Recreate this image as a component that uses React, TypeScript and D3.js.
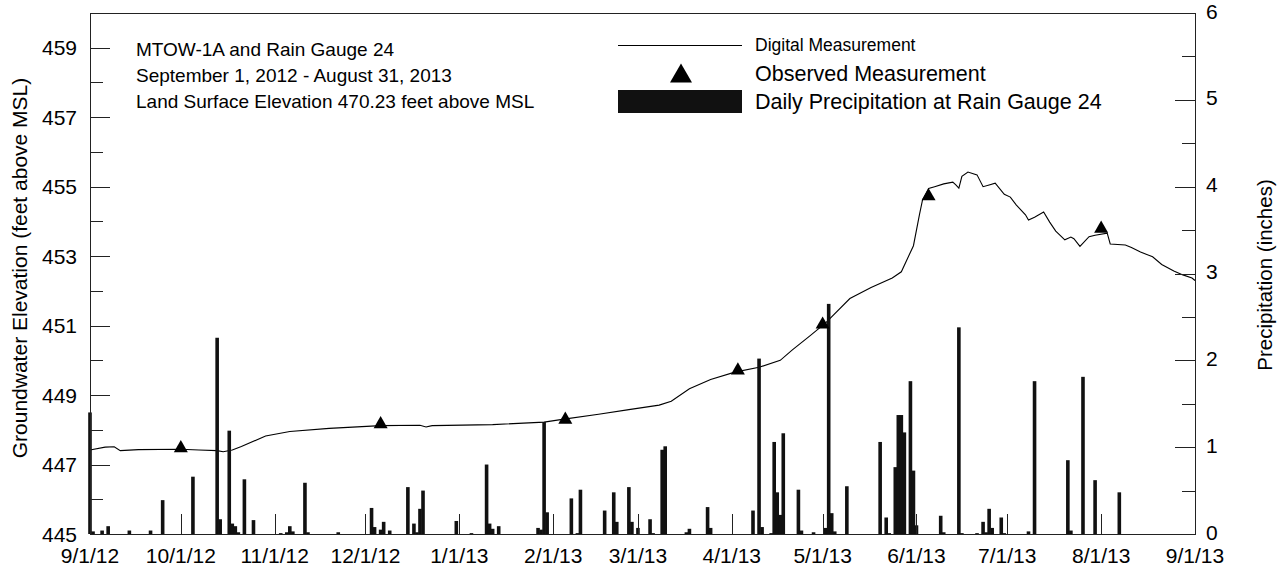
import React from "react";
import * as d3 from "d3";

// Groundwater level at MTOW-1A (digital recorder), feet above MSL
const levelDates = [
  "2012-09-01", "2012-09-06", "2012-09-09", "2012-09-11", "2012-09-17", "2012-10-01",
  "2012-10-07", "2012-10-13", "2012-10-15", "2012-10-18", "2012-10-21", "2012-10-29",
  "2012-11-06", "2012-11-19", "2012-12-06", "2012-12-19", "2012-12-21", "2012-12-23",
  "2013-01-12", "2013-01-29", "2013-02-04", "2013-02-16", "2013-02-26", "2013-03-08",
  "2013-03-12", "2013-03-18", "2013-03-25", "2013-04-02", "2013-04-10", "2013-04-17",
  "2013-04-21", "2013-04-27", "2013-05-02", "2013-05-10", "2013-05-17", "2013-05-24",
  "2013-05-27", "2013-05-31", "2013-06-02", "2013-06-03", "2013-06-05", "2013-06-07",
  "2013-06-10", "2013-06-13", "2013-06-14", "2013-06-15", "2013-06-16", "2013-06-18",
  "2013-06-21", "2013-06-23", "2013-06-25", "2013-06-27", "2013-06-30", "2013-07-02",
  "2013-07-04", "2013-07-07", "2013-07-08", "2013-07-10", "2013-07-13", "2013-07-15",
  "2013-07-17", "2013-07-20", "2013-07-22", "2013-07-23", "2013-07-25", "2013-07-28",
  "2013-07-30", "2013-08-03", "2013-08-04", "2013-08-09", "2013-08-11", "2013-08-14",
  "2013-08-18", "2013-08-21", "2013-08-25", "2013-08-28", "2013-08-31", "2013-09-01",
];
const levelValues = [
  447.42, 447.5, 447.51, 447.4, 447.43, 447.44,
  447.42, 447.4, 447.37, 447.42, 447.52, 447.82,
  447.95, 448.04, 448.12, 448.13, 448.08, 448.12,
  448.15, 448.22, 448.3, 448.45, 448.58, 448.71,
  448.82, 449.18, 449.45, 449.66, 449.8, 450.0,
  450.3, 450.72, 451.08, 451.78, 452.1, 452.37,
  452.55, 453.3, 454.2, 454.62, 454.95, 455.0,
  455.08, 455.13, 455.05, 454.96, 455.3, 455.42,
  455.34, 455.0, 455.05, 455.1, 454.78, 454.7,
  454.47, 454.19, 454.04, 454.12, 454.27, 453.98,
  453.72, 453.47, 453.55, 453.5, 453.28, 453.56,
  453.6, 453.66, 453.35, 453.32, 453.25, 453.12,
  452.98, 452.76, 452.57, 452.46, 452.37, 452.3,
];

// Manual (observed) water-level measurements
const observedDates = [
  "2012-10-01", "2012-12-06", "2013-02-05", "2013-04-03", "2013-05-01", "2013-06-05", "2013-08-01",
];
const observedValues = [447.53, 448.22, 448.35, 449.77, 451.09, 454.78, 453.85];

// Daily precipitation at Rain Gauge 24, inches
const rainDates = [
  "2012-09-01", "2012-09-02", "2012-09-05", "2012-09-07", "2012-09-14", "2012-09-21", "2012-09-25",
  "2012-10-05", "2012-10-13", "2012-10-14", "2012-10-17", "2012-10-18", "2012-10-19", "2012-10-20",
  "2012-10-22", "2012-10-25", "2012-11-03", "2012-11-05", "2012-11-06", "2012-11-07", "2012-11-11",
  "2012-11-12", "2012-11-22", "2012-12-03", "2012-12-04", "2012-12-06", "2012-12-07", "2012-12-09",
  "2012-12-15", "2012-12-17", "2012-12-18", "2012-12-19", "2012-12-20", "2012-12-31", "2013-01-05",
  "2013-01-10", "2013-01-11", "2013-01-12", "2013-01-14", "2013-01-27", "2013-01-28", "2013-01-29",
  "2013-01-30", "2013-02-07", "2013-02-09", "2013-02-10", "2013-02-18", "2013-02-21", "2013-02-22",
  "2013-02-26", "2013-02-27", "2013-03-01", "2013-03-05", "2013-03-06", "2013-03-09", "2013-03-10",
  "2013-03-17", "2013-03-18", "2013-03-24", "2013-03-25", "2013-04-08", "2013-04-10", "2013-04-11",
  "2013-04-14", "2013-04-15", "2013-04-16", "2013-04-17", "2013-04-18", "2013-04-23", "2013-04-24",
  "2013-04-28", "2013-05-02", "2013-05-03", "2013-05-04", "2013-05-05", "2013-05-09", "2013-05-20",
  "2013-05-22", "2013-05-23", "2013-05-25", "2013-05-26", "2013-05-27", "2013-05-28", "2013-05-30",
  "2013-05-31", "2013-06-01", "2013-06-09", "2013-06-10", "2013-06-15", "2013-06-16", "2013-06-21",
  "2013-06-23", "2013-06-24", "2013-06-25", "2013-06-26", "2013-06-29", "2013-06-30", "2013-07-08",
  "2013-07-10", "2013-07-21", "2013-07-22", "2013-07-26", "2013-07-30", "2013-08-07",
];
const rainValues = [
  1.4, 0.03, 0.04, 0.09, 0.04, 0.04, 0.39,
  0.66, 2.26, 0.17, 1.19, 0.12, 0.09, 0.02,
  0.63, 0.16, 0.01, 0.02, 0.09, 0.03, 0.59,
  0.02, 0.02, 0.3, 0.08, 0.05, 0.14, 0.04,
  0.54, 0.12, 0.02, 0.29, 0.5, 0.15, 0.01,
  0.8, 0.12, 0.06, 0.09, 0.07, 0.05, 1.29,
  0.25, 0.41, 0.01, 0.51, 0.27, 0.48, 0.14,
  0.54, 0.14, 0.07, 0.17, 0.01, 0.97, 1.01,
  0.02, 0.06, 0.31, 0.07, 0.27, 2.02, 0.08,
  0.01, 1.06, 0.48, 0.22, 1.16, 0.51, 0.04,
  0.02, 0.07, 2.65, 0.24, 0.03, 0.55, 1.06,
  0.19, 0.01, 0.77, 1.37, 1.37, 1.17, 1.76,
  0.73, 0.1, 0.21, 0.02, 2.38, 0.01, 0.01,
  0.14, 0.02, 0.29, 0.07, 0.19, 0.01, 0.03,
  1.76, 0.85, 0.04, 1.81, 0.62, 0.48,
];

// Axis ticks
const monthTicks = [
  "2012-09-01", "2012-10-01", "2012-11-01", "2012-12-01", "2013-01-01", "2013-02-01", "2013-03-01",
  "2013-04-01", "2013-05-01", "2013-06-01", "2013-07-01", "2013-08-01", "2013-09-01",
];
const monthLabels = [
  "9/1/12", "10/1/12", "11/1/12", "12/1/12", "1/1/13", "2/1/13", "3/1/13",
  "4/1/13", "5/1/13", "6/1/13", "7/1/13", "8/1/13", "9/1/13",
];
const elevTicks = [445, 447, 449, 451, 453, 455, 457, 459];
const elevMinorTicks = [446, 448, 450, 452, 454, 456, 458, 460];
const rainTicks = [0, 1, 2, 3, 4, 5, 6];
const rainMinorTicks = [0.5, 1.5, 2.5, 3.5, 4.5, 5.5];

const infoLines = [
  "MTOW-1A and Rain Gauge 24",
  "September 1, 2012 - August 31, 2013",
  "Land Surface Elevation 470.23 feet above MSL",
];

const W = 1283;
const H = 573;
const FONT = "'Liberation Sans', Arial, Helvetica, sans-serif";

export default function App() {
  const parse = d3.timeParse("%Y-%m-%d");
  const left = 90;
  const right = 1195;
  const top = 13;
  const bottom = 534;

  const x = d3
    .scaleTime()
    .domain([parse("2012-09-01")!, parse("2013-09-01")!])
    .range([left, right]);
  const yL = d3.scaleLinear().domain([445, 460]).range([bottom, top]);
  const yR = d3.scaleLinear().domain([0, 6]).range([bottom, top]);

  const level: [Date, number][] = levelDates.map((d, i) => [parse(d)!, levelValues[i]]);
  const line = d3
    .line<[Date, number]>()
    .x((d) => x(d[0]))
    .y((d) => yL(d[1]));

  const barW = 3.6;
  const tri = (cx: number, cy: number, s: number) => {
    const h = (s * Math.sqrt(3)) / 2;
    return `M${cx},${cy - h / 2}L${cx + s / 2},${cy + h / 2}L${cx - s / 2},${cy + h / 2}Z`;
  };

  const axisColor = "#222";
  const longTick = 20;
  const shortTick = 13;

  return (
    <svg
      width={W}
      height={H}
      style={{ position: "absolute", left: 0, top: 0, background: "#fff" }}
      fontFamily={FONT}
    >
      <rect x={0} y={0} width={W} height={H} fill="#fff" />

      {/* groundwater level */}
      <path d={line(level) || ""} fill="none" stroke="#000" strokeWidth={1.1} />

      {/* daily precipitation */}
      {rainDates.map((d, i) => {
        const cx = x(parse(d)!);
        const y0 = yR(rainValues[i]);
        return (
          <rect
            key={"r" + i}
            x={cx - barW / 2}
            y={y0}
            width={barW}
            height={bottom - y0}
            fill="#111"
          />
        );
      })}

      {/* observed measurements */}
      {observedDates.map((d, i) => (
        <path key={"o" + i} d={tri(x(parse(d)!), yL(observedValues[i]), 14)} fill="#000" />
      ))}

      {/* frame */}
      <rect
        x={left + 0.5}
        y={top + 0.5}
        width={right - left}
        height={bottom - top}
        fill="none"
        stroke={axisColor}
        strokeWidth={1}
      />

      {/* left axis ticks and labels */}
      {elevTicks.map((t) => (
        <g key={"el" + t}>
          <line
            x1={left}
            x2={left + longTick}
            y1={Math.round(yL(t)) + 0.5}
            y2={Math.round(yL(t)) + 0.5}
            stroke={axisColor}
          />
          <text x={77} y={yL(t)} dy="0.36em" textAnchor="end" fontSize={21}>
            {t}
          </text>
        </g>
      ))}
      {elevMinorTicks.map((t) => (
        <line
          key={"em" + t}
          x1={left}
          x2={left + shortTick}
          y1={Math.round(yL(t)) + 0.5}
          y2={Math.round(yL(t)) + 0.5}
          stroke={axisColor}
        />
      ))}

      {/* right axis ticks and labels */}
      {rainTicks.map((t) => (
        <g key={"rt" + t}>
          <line
            x1={right - longTick}
            x2={right}
            y1={Math.round(yR(t)) + 0.5}
            y2={Math.round(yR(t)) + 0.5}
            stroke={axisColor}
          />
          <text x={1206} y={yR(t) - 2} dy="0.36em" textAnchor="start" fontSize={21}>
            {t}
          </text>
        </g>
      ))}
      {rainMinorTicks.map((t) => (
        <line
          key={"rm" + t}
          x1={right - shortTick}
          x2={right}
          y1={Math.round(yR(t)) + 0.5}
          y2={Math.round(yR(t)) + 0.5}
          stroke={axisColor}
        />
      ))}

      {/* bottom axis ticks and labels */}
      {monthTicks.map((m, i) => {
        const px = Math.round(x(parse(m)!)) + 0.5;
        return (
          <g key={"m" + i}>
            <line x1={px} x2={px} y1={bottom} y2={bottom - longTick} stroke={axisColor} />
            <text x={x(parse(m)!)} y={563} textAnchor="middle" fontSize={21}>
              {monthLabels[i]}
            </text>
          </g>
        );
      })}

      {/* axis titles */}
      <text
        transform="translate(27,268) rotate(-90)"
        textAnchor="middle"
        fontSize={21}
      >
        Groundwater Elevation (feet above MSL)
      </text>
      <text
        transform="translate(1272,275) rotate(-90)"
        textAnchor="middle"
        fontSize={20.5}
      >
        Precipitation (inches)
      </text>

      {/* site information */}
      {infoLines.map((s, i) => (
        <text key={"i" + i} x={136} y={56 + i * 26} fontSize={19}>
          {s}
        </text>
      ))}

      {/* legend */}
      <line x1={618} x2={742} y1={45.5} y2={45.5} stroke="#000" strokeWidth={1.2} />
      <text x={755} y={51} fontSize={17.5}>
        Digital Measurement
      </text>
      <path d={tri(681, 73, 22)} fill="#000" />
      <text x={755} y={81} fontSize={21.5}>
        Observed Measurement
      </text>
      <rect x={618} y={90} width={124} height={23} fill="#111" />
      <text x={755} y={109} fontSize={21.5}>
        Daily Precipitation at Rain Gauge 24
      </text>
    </svg>
  );
}
